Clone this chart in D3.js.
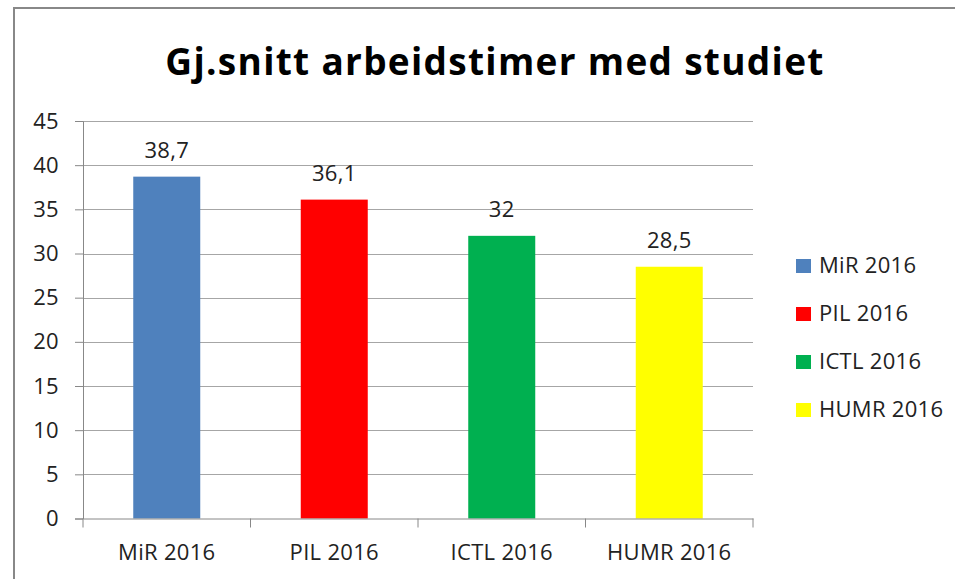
<!DOCTYPE html>
<html>
<head>
<meta charset="utf-8">
<script src="https://cdn.jsdelivr.net/npm/d3@7"></script>
<style>
	body { margin: 0; background: #fff; }
	svg { display: block; }
</style>
</head>
<body>
<div id="chart"></div>
<script>
const categories = ['MiR 2016', 'PIL 2016', 'ICTL 2016', 'HUMR 2016'];
const values = [38.7, 36.1, 32, 28.5];
const labels = ['38,7', '36,1', '32', '28,5'];
const colors = ['#4f81bd', '#ff0000', '#00b050', '#ffff00'];
const y_ticks = [0, 5, 10, 15, 20, 25, 30, 35, 40, 45];
const title = 'Gj.snitt arbeidstimer med studiet';

const width = 955, height = 579;
const font = "'Open Sans', 'DejaVu Sans', sans-serif";

var svg = d3.select('#chart').append('svg')
	.attr('width', width)
	.attr('height', height)

// chart frame
svg.append('rect')
	.attr('x', 14).attr('y', 8)
	.attr('width', 960).attr('height', 600)
	.attr('fill', '#fff')
	.attr('stroke', '#888')
	.attr('stroke-width', 2)

var x = d3.scaleBand()
	.domain(categories)
	.range([83, 753])
	.paddingInner(0.6)
	.paddingOuter(0.3)

var y = d3.scaleLinear()
	.domain([0, 45])
	.range([518.5, 121])

function style_text(sel) {
	sel.style('font-family', font)
		.style('font-size', '22px')
		.style('letter-spacing', '0.3px')
		.style('fill', '#222')
}

// gridlines
svg.append('g')
	.selectAll('line')
	.data(y_ticks.filter(d => d > 0))
	.join('line')
	.attr('x1', 83).attr('x2', 753)
	.attr('y1', d => Math.round(y(d)) + 0.5)
	.attr('y2', d => Math.round(y(d)) + 0.5)
	.attr('stroke', '#a6a6a6')
	.attr('stroke-width', 1)

// bars
svg.append('g')
	.selectAll('rect')
	.data(values)
	.join('rect')
	.attr('x', (d, i) => x(categories[i]))
	.attr('width', x.bandwidth())
	.attr('y', d => y(d))
	.attr('height', d => y(0) - y(d))
	.attr('fill', (d, i) => colors[i])

// data labels
svg.append('g')
	.selectAll('text')
	.data(values)
	.join('text')
	.attr('x', (d, i) => x(categories[i]) + x.bandwidth() / 2)
	.attr('y', d => y(d) - 19)
	.attr('text-anchor', 'middle')
	.call(style_text)
	.text((d, i) => labels[i])

// y axis
var y_axis = svg.append('g')
	.attr('transform', 'translate(83,0)')
	.call(d3.axisLeft(y).tickValues(y_ticks).tickSize(8).tickPadding(16))
y_axis.select('.domain').attr('stroke', '#888')
y_axis.selectAll('.tick line').attr('stroke', '#888')
y_axis.selectAll('text').call(style_text)

// x axis
var x_axis = svg.append('g')
	.attr('transform', 'translate(0,518.5)')
	.call(d3.axisBottom(x).tickSize(0).tickPadding(26))
x_axis.select('.domain').attr('stroke', '#888')
x_axis.selectAll('text').call(style_text)
// category separators
x_axis.append('g')
	.selectAll('line')
	.data(d3.range(categories.length + 1))
	.join('line')
	.attr('x1', i => 83 + i * x.step())
	.attr('x2', i => 83 + i * x.step())
	.attr('y1', 0).attr('y2', 9)
	.attr('stroke', '#888')

// title
svg.append('text')
	.attr('x', 495)
	.attr('y', 75)
	.attr('text-anchor', 'middle')
	.style('font-family', font)
	.style('font-weight', 'bold')
	.style('font-size', '37px')
	.style('letter-spacing', '1.3px')
	.style('fill', '#000')
	.text(title)

// legend
var legend = svg.append('g')
	.selectAll('g')
	.data(categories)
	.join('g')
	.attr('transform', (d, i) => 'translate(796,' + (259 + i * 48) + ')')
legend.append('rect')
	.attr('width', 15).attr('height', 14)
	.attr('fill', (d, i) => colors[i])
legend.append('text')
	.attr('x', 23).attr('y', 14)
	.call(style_text)
	.text(d => d)
</script>
</body>
</html>
